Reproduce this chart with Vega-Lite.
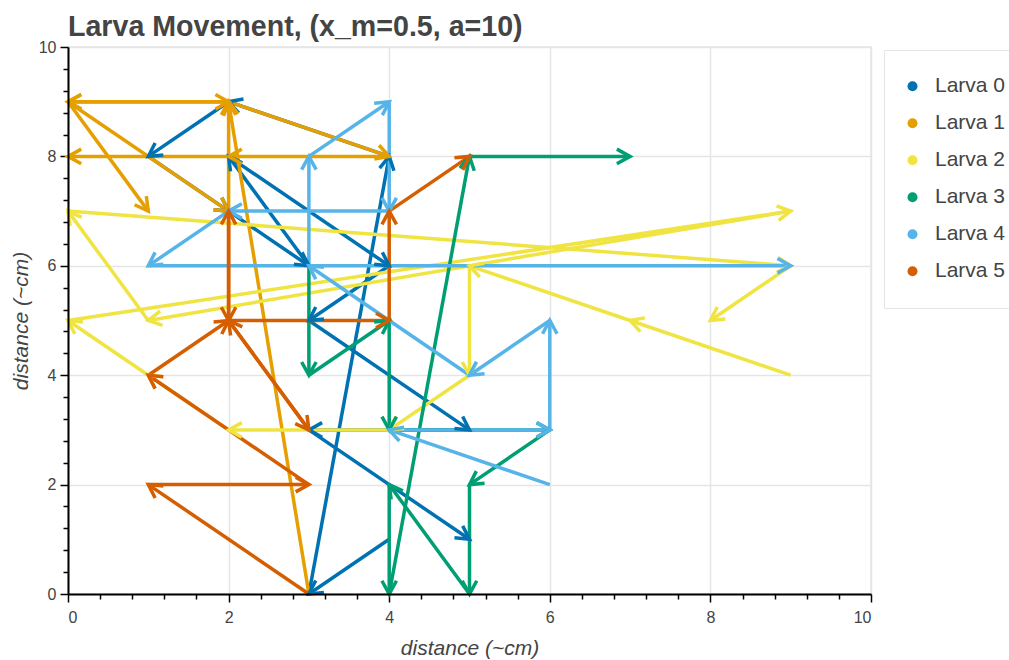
{
  "$schema": "https://vega.github.io/schema/vega-lite/v6.json",
  "width": 803,
  "height": 547,
  "autosize": {"type": "none"},
  "padding": {"left": 68, "top": 47, "right": 138, "bottom": 66},
  "background": "white",
  "config": {
    "font": "Liberation Sans",
    "view": {"stroke": "#e5e5e5", "strokeWidth": 1.5},
    "axis": {
      "domainColor": "black",
      "domainWidth": 2,
      "tickColor": "black",
      "tickWidth": 1.5,
      "labelColor": "#444444",
      "labelFont": "Liberation Sans",
      "titleColor": "#444444",
      "titleFont": "Liberation Sans",
      "gridColor": "#e5e5e5",
      "gridWidth": 1.5
    }
  },
  "title": {
    "text": "Larva Movement, (x_m=0.5, a=10)",
    "anchor": "start",
    "frame": "group",
    "font": "Liberation Sans",
    "fontSize": 28.6,
    "fontWeight": "bold",
    "color": "#444444",
    "offset": -3
  },
  "data": {
    "values": [
      {"larva": "Larva 0", "x": 4, "y": 1, "x2": 3, "y2": 0},
      {"larva": "Larva 0", "x": 3, "y": 0, "x2": 4, "y2": 8},
      {"larva": "Larva 0", "x": 4, "y": 8, "x2": 2, "y2": 9},
      {"larva": "Larva 0", "x": 2, "y": 9, "x2": 1, "y2": 8},
      {"larva": "Larva 0", "x": 1, "y": 8, "x2": 2, "y2": 7},
      {"larva": "Larva 0", "x": 2, "y": 7, "x2": 3, "y2": 6},
      {"larva": "Larva 0", "x": 3, "y": 6, "x2": 2, "y2": 8},
      {"larva": "Larva 0", "x": 2, "y": 8, "x2": 4, "y2": 6},
      {"larva": "Larva 0", "x": 4, "y": 6, "x2": 3, "y2": 5},
      {"larva": "Larva 0", "x": 3, "y": 5, "x2": 5, "y2": 3},
      {"larva": "Larva 0", "x": 5, "y": 3, "x2": 3, "y2": 3},
      {"larva": "Larva 0", "x": 3, "y": 3, "x2": 5, "y2": 1},

      {"larva": "Larva 1", "x": 3, "y": 0, "x2": 2, "y2": 9},
      {"larva": "Larva 1", "x": 2, "y": 9, "x2": 4, "y2": 8},
      {"larva": "Larva 1", "x": 4, "y": 8, "x2": 2, "y2": 8},
      {"larva": "Larva 1", "x": 2, "y": 8, "x2": 0, "y2": 8},
      {"larva": "Larva 1", "x": 0, "y": 9, "x2": 2, "y2": 9},
      {"larva": "Larva 1", "x": 2, "y": 9, "x2": 0, "y2": 9},
      {"larva": "Larva 1", "x": 0, "y": 9, "x2": 2, "y2": 7},
      {"larva": "Larva 1", "x": 2, "y": 7, "x2": 2, "y2": 9},
      {"larva": "Larva 1", "x": 2, "y": 9, "x2": 0, "y2": 9},
      {"larva": "Larva 1", "x": 0, "y": 9, "x2": 1, "y2": 7},

      {"larva": "Larva 2", "x": 9, "y": 4, "x2": 7, "y2": 5},
      {"larva": "Larva 2", "x": 7, "y": 5, "x2": 5, "y2": 6},
      {"larva": "Larva 2", "x": 5, "y": 6, "x2": 5, "y2": 4},
      {"larva": "Larva 2", "x": 5, "y": 4, "x2": 4, "y2": 3},
      {"larva": "Larva 2", "x": 4, "y": 3, "x2": 2, "y2": 3},
      {"larva": "Larva 2", "x": 2, "y": 3, "x2": 1, "y2": 4},
      {"larva": "Larva 2", "x": 1, "y": 4, "x2": 0, "y2": 5},
      {"larva": "Larva 2", "x": 0, "y": 5, "x2": 9, "y2": 7},
      {"larva": "Larva 2", "x": 9, "y": 7, "x2": 1, "y2": 5},
      {"larva": "Larva 2", "x": 1, "y": 5, "x2": 0, "y2": 7},
      {"larva": "Larva 2", "x": 0, "y": 7, "x2": 9, "y2": 6},
      {"larva": "Larva 2", "x": 9, "y": 6, "x2": 8, "y2": 5},

      {"larva": "Larva 3", "x": 3, "y": 6, "x2": 3, "y2": 4},
      {"larva": "Larva 3", "x": 3, "y": 4, "x2": 4, "y2": 5},
      {"larva": "Larva 3", "x": 4, "y": 5, "x2": 4, "y2": 3},
      {"larva": "Larva 3", "x": 4, "y": 3, "x2": 6, "y2": 3},
      {"larva": "Larva 3", "x": 6, "y": 3, "x2": 5, "y2": 2},
      {"larva": "Larva 3", "x": 5, "y": 2, "x2": 5, "y2": 0},
      {"larva": "Larva 3", "x": 5, "y": 0, "x2": 4, "y2": 2},
      {"larva": "Larva 3", "x": 4, "y": 2, "x2": 4, "y2": 0},
      {"larva": "Larva 3", "x": 4, "y": 0, "x2": 5, "y2": 8},
      {"larva": "Larva 3", "x": 5, "y": 8, "x2": 7, "y2": 8},

      {"larva": "Larva 4", "x": 6, "y": 2, "x2": 4, "y2": 3},
      {"larva": "Larva 4", "x": 4, "y": 3, "x2": 6, "y2": 3},
      {"larva": "Larva 4", "x": 6, "y": 3, "x2": 6, "y2": 5},
      {"larva": "Larva 4", "x": 6, "y": 5, "x2": 5, "y2": 4},
      {"larva": "Larva 4", "x": 5, "y": 4, "x2": 3, "y2": 6},
      {"larva": "Larva 4", "x": 3, "y": 6, "x2": 3, "y2": 8},
      {"larva": "Larva 4", "x": 3, "y": 8, "x2": 4, "y2": 9},
      {"larva": "Larva 4", "x": 4, "y": 9, "x2": 4, "y2": 7},
      {"larva": "Larva 4", "x": 4, "y": 7, "x2": 2, "y2": 7},
      {"larva": "Larva 4", "x": 2, "y": 7, "x2": 1, "y2": 6},
      {"larva": "Larva 4", "x": 1, "y": 6, "x2": 9, "y2": 6},

      {"larva": "Larva 5", "x": 3, "y": 0, "x2": 1, "y2": 2},
      {"larva": "Larva 5", "x": 1, "y": 2, "x2": 3, "y2": 2},
      {"larva": "Larva 5", "x": 3, "y": 2, "x2": 1, "y2": 4},
      {"larva": "Larva 5", "x": 1, "y": 4, "x2": 2, "y2": 5},
      {"larva": "Larva 5", "x": 2, "y": 5, "x2": 2, "y2": 7},
      {"larva": "Larva 5", "x": 2, "y": 7, "x2": 2, "y2": 5},
      {"larva": "Larva 5", "x": 2, "y": 5, "x2": 3, "y2": 3},
      {"larva": "Larva 5", "x": 3, "y": 3, "x2": 2, "y2": 5},
      {"larva": "Larva 5", "x": 2, "y": 5, "x2": 4, "y2": 5},
      {"larva": "Larva 5", "x": 4, "y": 5, "x2": 4, "y2": 7},
      {"larva": "Larva 5", "x": 4, "y": 7, "x2": 5, "y2": 8}
    ]
  },
  "resolve": {"axis": {"x": "independent", "y": "independent"}},
  "layer": [
    {
      "mark": {"type": "rule", "strokeWidth": 3.5},
      "encoding": {
        "x": {
          "field": "x", "type": "quantitative",
          "scale": {"domain": [0, 10], "nice": false, "zero": false},
          "axis": {
            "orient": "bottom",
            "values": [0, 2, 4, 6, 8, 10],
            "domain": false,
            "tickSize": 8,
            "labelFontSize": 16,
            "labelPadding": 7,
            "title": "distance (~cm)",
            "titleFontSize": 21,
            "titleFontStyle": "italic",
            "titleFontWeight": "normal",
            "titlePadding": 12,
            "grid": true
          }
        },
        "y": {
          "field": "y", "type": "quantitative",
          "scale": {"domain": [0, 10], "nice": false, "zero": false},
          "axis": {
            "orient": "left",
            "values": [0, 2, 4, 6, 8, 10],
            "domain": false,
            "tickSize": 8,
            "labelFontSize": 16,
            "labelPadding": 4,
            "title": "distance (~cm)",
            "titleFontSize": 21,
            "titleFontStyle": "italic",
            "titleFontWeight": "normal",
            "titlePadding": 7,
            "grid": true
          }
        },
        "x2": {"field": "x2"},
        "y2": {"field": "y2"},
        "color": {
          "field": "larva", "type": "nominal",
          "scale": {
            "domain": ["Larva 0", "Larva 1", "Larva 2", "Larva 3", "Larva 4", "Larva 5"],
            "range": ["#0072B2", "#E69F00", "#F0E442", "#009E73", "#56B4E9", "#D55E00"]
          },
          "legend": {
            "title": null,
            "orient": "none",
            "legendX": 816,
            "legendY": 3,
            "symbolType": "circle",
            "symbolSize": 100,
            "labelFontSize": 21,
            "labelColor": "#444444",
            "labelOffset": 12,
            "clipHeight": 36.4,
            "rowPadding": 0,
            "padding": 18,
            "strokeColor": "#e5e5e5",
            "fillColor": "white",
            "encode": {
              "symbols": {
                "update": {
                  "fill": {"scale": "color", "field": "value"},
                  "strokeWidth": {"value": 0}
                }
              }
            }
          }
        }
      }
    },
    {
      "transform": [
        {"calculate": "atan2(-(datum.y2 - datum.y) * 54.7, (datum.x2 - datum.x) * 80.3) * 180 / PI", "as": "heading"}
      ],
      "mark": {
        "type": "point",
        "shape": "M-1,-0.55L0,0L-1,0.55",
        "filled": false,
        "size": 700,
        "strokeWidth": 3.5,
        "strokeJoin": "miter",
        "opacity": 1
      },
      "encoding": {
        "x": {
          "field": "x2", "type": "quantitative",
          "scale": {"domain": [0, 10], "nice": false, "zero": false},
          "axis": {
            "orient": "bottom",
            "values": [0.4, 0.8, 1.2, 1.6, 2.4, 2.8, 3.2, 3.6, 4.4, 4.8, 5.2, 5.6, 6.4, 6.8, 7.2, 7.6, 8.4, 8.8, 9.2, 9.6],
            "tickSize": 5,
            "labels": false,
            "domain": true,
            "grid": false,
            "title": null,
            "zindex": 1
          }
        },
        "y": {
          "field": "y2", "type": "quantitative",
          "scale": {"domain": [0, 10], "nice": false, "zero": false},
          "axis": {
            "orient": "left",
            "values": [0.4, 0.8, 1.2, 1.6, 2.4, 2.8, 3.2, 3.6, 4.4, 4.8, 5.2, 5.6, 6.4, 6.8, 7.2, 7.6, 8.4, 8.8, 9.2, 9.6],
            "tickSize": 5,
            "labels": false,
            "domain": true,
            "grid": false,
            "title": null,
            "zindex": 1
          }
        },
        "angle": {"field": "heading", "type": "quantitative", "scale": null},
        "color": {"field": "larva", "type": "nominal", "legend": null}
      }
    }
  ]
}
